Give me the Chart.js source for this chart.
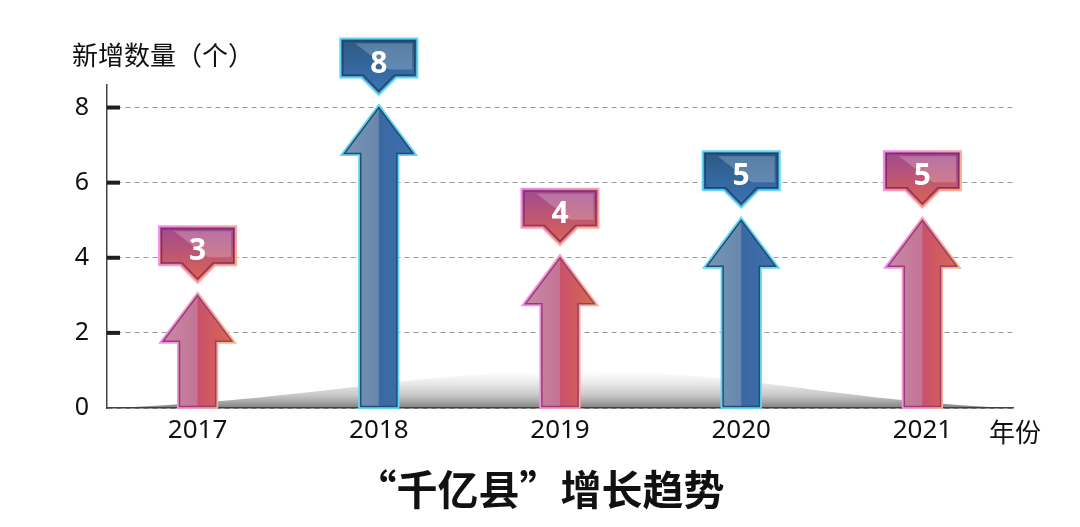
<!DOCTYPE html>
<html><head><meta charset="utf-8">
<script src="https://cdn.jsdelivr.net/npm/chart.js@4/dist/chart.umd.min.js"></script>
<style>html,body{margin:0;padding:0;background:#fff;overflow:hidden}#wrap{width:1080px;height:527px;position:relative}</style>
</head><body><div id="wrap"><canvas id="c"></canvas></div>
<script>
// ---- data ----
const categories = ['2017', '2018', '2019', '2020', '2021'];
const newCounts = [3, 8, 4, 5, 5];
const yTickValues = [0, 2, 4, 6, 8];
const yAxisTitle = '新增数量（个）';
const xAxisTitle = '年份';
const chartTitle = '“千亿县”增长趋势';

// ---- styles ----
const FONT = '"Noto Sans", "Open Sans", "Noto Sans CJK SC", sans-serif';
const CJK = '"Noto Sans CJK SC", "Noto Sans", sans-serif';
const themes = {
  pink: {
    leftFill: ['#c88aa8', '#c47393'], rightFill: ['#c9506c', '#d86a4e'],
    glow: ['#f38cf2', '#ffb27c'], inner: 'rgba(140,50,110,0.85)',
    boxTop: '#a04a90', boxBottom: '#dc6450', boxInner: 'rgba(120,40,100,0.9)'
  },
  blue: {
    leftFill: ['#7795b8', '#6788ac'], rightFill: ['#3a68a4', '#3e70ad'],
    glow: ['#5fd8f7', '#5fd8f7'], inner: 'rgba(35,65,100,0.9)',
    boxTop: '#2c5a86', boxBottom: '#3c74b4', boxInner: 'rgba(30,60,95,0.9)'
  }
};
const barTheme = ['pink', 'blue', 'pink', 'blue', 'pink'];

function arrowPath(ctx, x, tip, base, sw, hw, hh) {
  ctx.beginPath();
  ctx.moveTo(x, tip);
  ctx.lineTo(x + hw / 2, tip + hh);
  ctx.lineTo(x + sw / 2, tip + hh);
  ctx.lineTo(x + sw / 2, base);
  ctx.lineTo(x - sw / 2, base);
  ctx.lineTo(x - sw / 2, tip + hh);
  ctx.lineTo(x - hw / 2, tip + hh);
  ctx.closePath();
}
function calloutPath(ctx, x, top, w, h, tw, th) {
  ctx.beginPath();
  ctx.moveTo(x - w / 2, top);
  ctx.lineTo(x + w / 2, top);
  ctx.lineTo(x + w / 2, top + h);
  ctx.lineTo(x + tw / 2, top + h);
  ctx.lineTo(x, top + h + th);
  ctx.lineTo(x - tw / 2, top + h);
  ctx.lineTo(x - w / 2, top + h);
  ctx.closePath();
}

const decorPlugin = {
  id: 'decor',
  beforeDatasetsDraw(chart) {
    const {ctx, chartArea: a, scales: {y}} = chart;
    const y0 = y.getPixelForValue(0);
    // floor shadow (hill shaped)
    ctx.save();
    const L = a.left + 4, R = a.right - 3, peakX = a.left + 0.5 * (a.right - a.left) + 15, peakH = 37;
    ctx.beginPath();
    ctx.moveTo(L, y0);
    ctx.bezierCurveTo(L + 200, y0 - 8, peakX - 160, y0 - peakH, peakX, y0 - peakH);
    ctx.bezierCurveTo(peakX + 170, y0 - peakH, R - 180, y0 - 8, R, y0);
    ctx.closePath();
    const g = ctx.createLinearGradient(0, y0, 0, y0 - peakH);
    g.addColorStop(0, 'rgba(60,60,60,0.65)');
    g.addColorStop(0.35, 'rgba(110,110,110,0.38)');
    g.addColorStop(1, 'rgba(160,160,160,0)');
    ctx.fillStyle = g; ctx.fill();
    ctx.restore();
    // thick tick marks
    ctx.save();
    ctx.fillStyle = '#1e1e1e';
    yTickValues.forEach(v => {
      if (v === 0) return;
      const py = y.getPixelForValue(v);
      ctx.fillRect(a.left, py - 2, 13, 4);
    });
    ctx.restore();
  },
  afterDatasetsDraw(chart) {
    const {ctx} = chart;
    const meta = chart.getDatasetMeta(0);
    meta.data.forEach((el, i) => {
      const t = themes[barTheme[i]];
      const {x, y: tip, base, width} = el.getProps(['x', 'y', 'base', 'width'], true);
      const sw = width, hw = width * 1.9, hh = 46;
      const L = x - hw / 2, R = x + hw / 2;
      ctx.save();
      ctx.lineJoin = 'miter';
      arrowPath(ctx, x, tip, base - 1, sw, hw, hh);
      const gg = ctx.createLinearGradient(L, 0, R, 0);
      gg.addColorStop(0, t.glow[0]); gg.addColorStop(1, t.glow[1]);
      ctx.strokeStyle = gg; ctx.lineWidth = 5; ctx.stroke();
      const rg = ctx.createLinearGradient(x, 0, R, 0);
      rg.addColorStop(0, t.rightFill[0]); rg.addColorStop(1, t.rightFill[1]);
      ctx.fillStyle = rg; ctx.fill();
      ctx.save();
      ctx.beginPath(); ctx.rect(L - 5, tip - 5, x - L + 5, base - tip + 10); ctx.clip();
      arrowPath(ctx, x, tip, base - 1, sw, hw, hh);
      const lg = ctx.createLinearGradient(L, 0, x, 0);
      lg.addColorStop(0, t.leftFill[0]); lg.addColorStop(1, t.leftFill[1]);
      ctx.fillStyle = lg; ctx.fill();
      ctx.restore();
      arrowPath(ctx, x, tip, base - 1, sw, hw, hh);
      ctx.strokeStyle = t.inner; ctx.lineWidth = 1.5; ctx.stroke();
      ctx.restore();

      // callout
      const w = 75, h = 37, tw = 34, th = 17;
      const top = tip - 68;
      ctx.save();
      calloutPath(ctx, x, top, w, h, tw, th);
      const bg = ctx.createLinearGradient(0, top, 0, top + h + th);
      bg.addColorStop(0, t.boxTop); bg.addColorStop(1, t.boxBottom);
      const og = ctx.createLinearGradient(x - w / 2, top, x + w / 2, top + h + th);
      og.addColorStop(0, t.glow[0]); og.addColorStop(1, t.glow[1]);
      ctx.strokeStyle = og; ctx.lineWidth = 4; ctx.stroke();
      ctx.fillStyle = bg; ctx.fill();
      ctx.beginPath();
      ctx.moveTo(x - w / 2 + 14, top + 4);
      ctx.lineTo(x + w / 2 - 4, top + 4);
      ctx.lineTo(x + w / 2 - 4, top + h - 7);
      ctx.lineTo(x - w / 2 + 48, top + h - 7);
      ctx.closePath();
      ctx.fillStyle = 'rgba(255,255,255,0.22)'; ctx.fill();
      calloutPath(ctx, x, top + 1.5, w - 3, h - 3, tw - 3, th - 1);
      ctx.strokeStyle = t.boxInner; ctx.lineWidth = 1.2; ctx.stroke();
      ctx.fillStyle = '#ffffff';
      ctx.font = 'bold 30px ' + FONT;
      ctx.textAlign = 'center'; ctx.textBaseline = 'middle';
      ctx.fillText(String(newCounts[i]), x, top + h / 2 + 6);
      ctx.restore();
    });
  },
  afterDraw(chart) {
    const {ctx} = chart;
    ctx.save();
    ctx.fillStyle = '#111';
    ctx.textBaseline = 'middle';
    ctx.textAlign = 'left';
    ctx.font = '26px ' + CJK;
    ctx.fillText(yAxisTitle, 72, 55);
    ctx.fillText(xAxisTitle, 989, 432);
    ctx.textAlign = 'center';
    ctx.font = 'bold 41px ' + CJK;
    ctx.fillText(chartTitle, 540, 489);
    ctx.restore();
  }
};

new Chart(document.getElementById('c'), {
  type: 'bar',
  data: {
    labels: categories,
    datasets: [{
      data: newCounts,
      backgroundColor: 'rgba(0,0,0,0)',
      borderWidth: 0,
      categoryPercentage: 0.8,
      barPercentage: 0.25
    }]
  },
  options: {
    responsive: true,
    maintainAspectRatio: false,
    animation: false,
    layout: {padding: {left: 0, right: 67, top: 85, bottom: 79}},
    plugins: {legend: {display: false}, tooltip: {enabled: false}, title: {display: false}},
    scales: {
      x: {
        offset: true,
        grid: {display: false, drawTicks: false},
        border: {display: true, color: '#444', width: 1.5},
        ticks: {color: '#111', font: {size: 26, family: FONT}, padding: 7},
        afterFit(s) { s.height = 40; }
      },
      y: {
        min: 0, max: 8.6,
        afterBuildTicks(s) { s.ticks = yTickValues.map(v => ({value: v})); },
        grid: {display: true, drawTicks: false, color: '#9a9a9a', lineWidth: 1},
        border: {display: true, color: '#444', width: 1.5, dash: [5, 4]},
        ticks: {color: '#111', font: {size: 25, family: FONT}, padding: 18},
        afterFit(s) { s.width = 107; }
      }
    }
  },
  plugins: [decorPlugin]
});
</script>
</body></html>
